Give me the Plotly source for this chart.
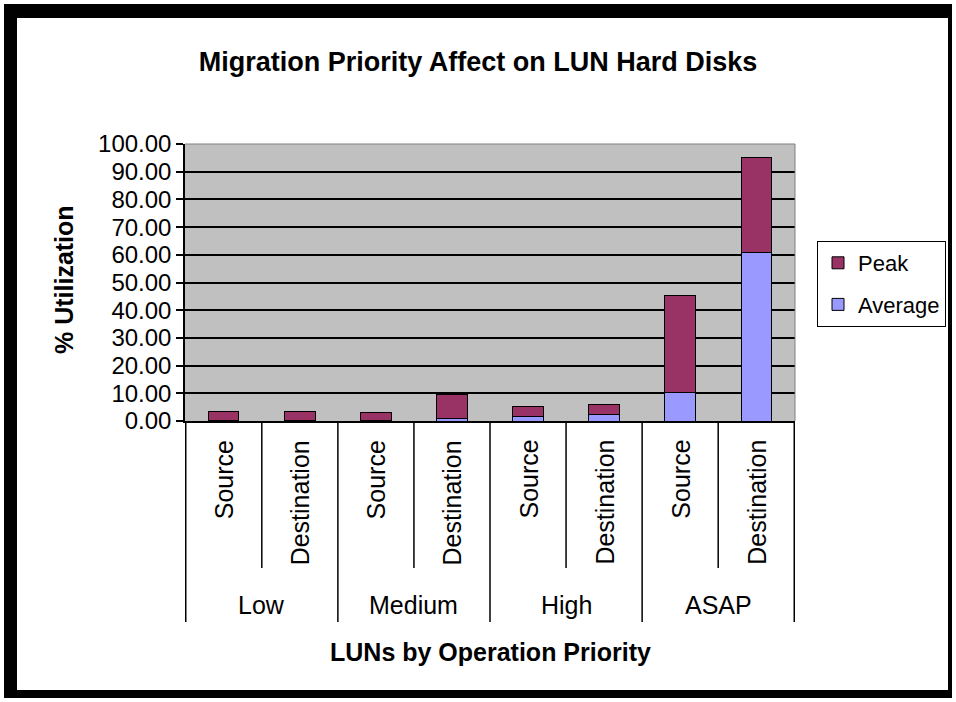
import plotly.graph_objects as go

# ---- data ----
groups = ["Low", "Low", "Medium", "Medium", "High", "High", "ASAP", "ASAP"]
roles = ["Source", "Destination", "Source", "Destination",
         "Source", "Destination", "Source", "Destination"]
group_names = ["Low", "Medium", "High", "ASAP"]
average = [0.3, 0.3, 0.3, 1.0, 1.5, 2.4, 10.3, 60.9]
peak = [3.3, 3.3, 2.7, 8.7, 3.8, 3.7, 34.9, 34.2]   # stacked on top of average
y_tick_values = [0, 10, 20, 30, 40, 50, 60, 70, 80, 90, 100]

categories = [f"{g} {r}" for g, r in zip(groups, roles)]

W, H = 956, 702
L, R, T, B = 185, 795, 144, 421  # plot area in pixels
PR = W  # paper right edge (margin r = 0)


def px2x(px):
    return (px - L) / (PR - L)


def py2y(py):
    return (B - py) / (B - T)


FONT = "Liberation Sans, Arial, sans-serif"

fig = go.Figure()
fig.add_trace(go.Bar(
    x=categories, y=average, name="Average", legendrank=2, legendgroup="avg",
    marker=dict(color="#9999FF", line=dict(color="black", width=1)),
))
fig.add_trace(go.Bar(
    x=categories, y=peak, name="Peak", legendrank=1, legendgroup="peak",
    marker=dict(color="#993366", line=dict(color="black", width=1)),
))

shapes = []
# black outer frame
for x0, x1, y0, y1 in [(4, 17, 4, 698), (4, 952, 4, 18), (948, 952, 4, 698), (4, 952, 690, 698)]:
    shapes.append(dict(type="rect", xref="paper", yref="paper",
                       x0=px2x(x0), x1=px2x(x1), y0=py2y(y0), y1=py2y(y1),
                       fillcolor="black", line=dict(width=0), layer="above"))
# plot area gray border (top, right)
shapes.append(dict(type="line", xref="paper", yref="paper", x0=0, x1=px2x(R), y0=1, y1=1,
                   line=dict(color="#808080", width=1)))
shapes.append(dict(type="line", xref="paper", yref="paper", x0=px2x(R), x1=px2x(R), y0=0, y1=1,
                   line=dict(color="#808080", width=1)))
# category dividers below the axis
n = len(categories)
for i in range(n + 1):
    xpos = i - 0.5
    yend = py2y(622) if i % 2 == 0 else py2y(568)
    shapes.append(dict(type="line", xref="x", yref="paper", x0=xpos, x1=xpos,
                       y0=0, y1=yend, line=dict(color="black", width=1.5)))

annotations = []
for i, r in enumerate(roles):
    annotations.append(dict(x=i, xref="x", y=py2y(438), yref="paper",
                            text=r, textangle=-90, showarrow=False,
                            xanchor="center", yanchor="top",
                            font=dict(family=FONT, size=25, color="black")))
for j, g in enumerate(group_names):
    annotations.append(dict(x=2 * j + 0.5, xref="x", y=py2y(605), yref="paper",
                            text=g, showarrow=False, xanchor="center", yanchor="middle",
                            font=dict(family=FONT, size=25, color="black")))
annotations.append(dict(x=px2x((L + R) / 2), xref="paper", y=py2y(652), yref="paper",
                        text="<b>LUNs by Operation Priority</b>", showarrow=False,
                        xanchor="center", yanchor="middle",
                        font=dict(family=FONT, size=25, color="black")))
annotations.append(dict(x=px2x(64), xref="paper", y=py2y(280), yref="paper",
                        text="<b>% Utilization</b>", textangle=-90, showarrow=False,
                        xanchor="center", yanchor="middle",
                        font=dict(family=FONT, size=25, color="black")))

fig.update_layout(
    width=W, height=H,
    margin=dict(l=L, r=W - PR, t=T, b=H - B, pad=0, autoexpand=False),
    paper_bgcolor="white", plot_bgcolor="#C0C0C0",
    barmode="stack", bargap=0.6,
    title=dict(text="<b>Migration Priority Affect on LUN Hard Disks</b>",
               x=0.5, xanchor="center", y=1 - 62 / H, yanchor="middle",
               font=dict(family=FONT, size=27, color="black")),
    font=dict(family=FONT, color="black"),
    xaxis=dict(type="category", showticklabels=False, ticks="",
               domain=[0, px2x(R)],
               showline=True, linecolor="black", linewidth=1.5,
               showgrid=False, zeroline=False, fixedrange=True),
    yaxis=dict(range=[0, 100], tickvals=y_tick_values, tickformat=".2f",
               ticks="outside", ticklen=7, tickcolor="black", tickwidth=1.5,
               showline=True, linecolor="black", linewidth=1.5,
               showgrid=True, gridcolor="black", gridwidth=1.5,
               zeroline=False, tickfont=dict(family=FONT, size=24, color="black")),
    legend=dict(x=px2x(817), y=py2y(241), xanchor="left", yanchor="top",
                bgcolor="white", bordercolor="black", borderwidth=1,
                traceorder="grouped", tracegroupgap=10,
                font=dict(family=FONT, size=22, color="black")),
    shapes=shapes, annotations=annotations,
)

fig.write_html("out.html", config={"displayModeBar": False},
               post_script="document.body.style.margin='0px';")
